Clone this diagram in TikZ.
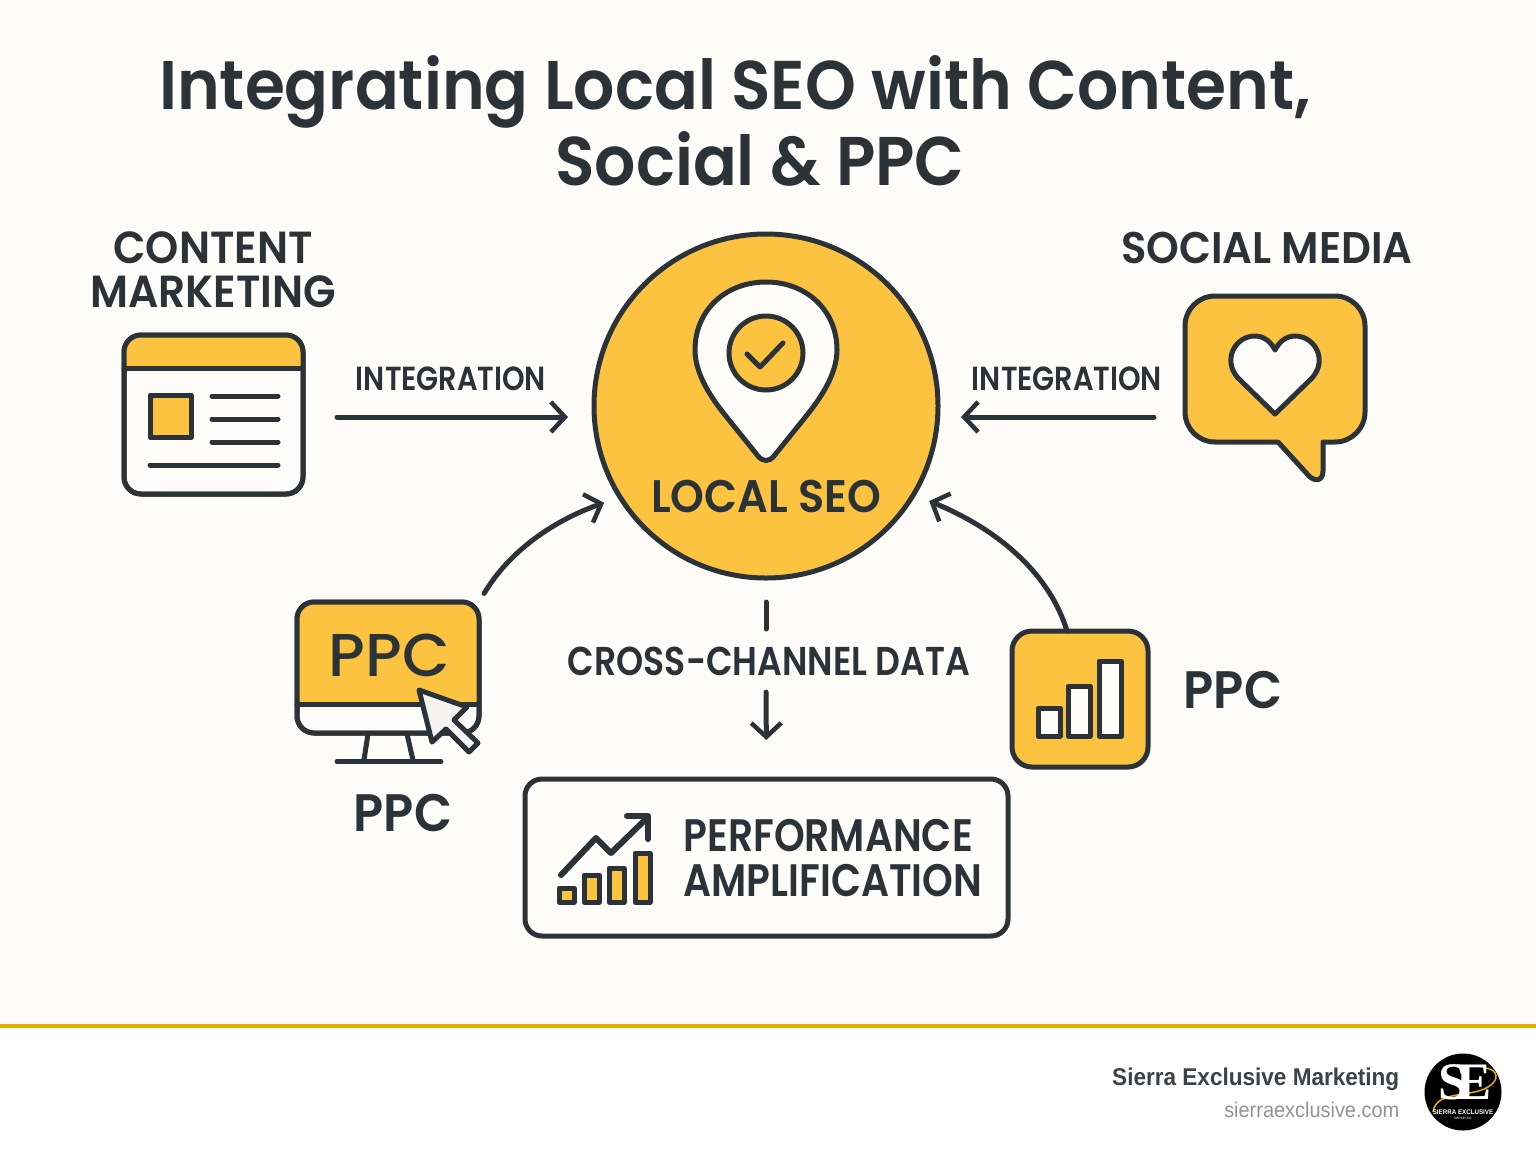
\documentclass[tikz,border=0pt]{standalone}
\usepackage{fontspec}
\usepackage{tikz}
\usepackage{xcolor}
\usetikzlibrary{arrows.meta, calc, positioning}
\setmainfont{Poppins}
\newfontfamily\headfont{Poppins SemiBold}[FakeStretch=0.94]
\newfontfamily\narrowfont{Poppins SemiBold}[FakeStretch=0.86]
\newfontfamily\screenfont{Poppins Medium}[FakeStretch=1.02]
\newfontfamily\footfont{Liberation Sans}[FakeStretch=0.93]
\newfontfamily\logofont{Liberation Serif}
\definecolor{paper}{HTML}{FEFCF8}
\definecolor{accent}{HTML}{FCC340}
\definecolor{ink}{HTML}{2B3338}
\definecolor{rule}{HTML}{E3AE06}
\definecolor{pointer}{HTML}{F6F4F0}
\tikzset{
    inkline/.style={draw=ink, line width=0.05cm, line cap=round, line join=round},
    flow/.style={inkline, -{Straight Barb[length=0.14cm, width=0.3cm, line width=0.045cm]}},
    iconbox/.style={inkline, rectangle, rounded corners=0.17cm, inner sep=0, outer sep=0},
    headtext/.style={text=ink, inner sep=0, font=\headfont\fontsize{19.6}{24}\selectfont},
    bigtext/.style={text=ink, inner sep=0, align=center, font=\headfont\fontsize{12.8}{12.5}\selectfont},
    ppctext/.style={text=ink, inner sep=0, font=\headfont\fontsize{15}{16}\selectfont},
    smalltext/.style={text=ink, inner sep=0, font=\narrowfont\fontsize{9.5}{12}\selectfont}
}
\begin{document}
\begin{tikzpicture}
    \useasboundingbox (0, 0) rectangle (15.36, -11.54);
    \fill[paper] (0, 0) rectangle (15.36, -10.26);
    \fill[white] (0, -10.26) rectangle (15.36, -11.54);
    \draw[rule, line width=0.04cm] (0, -10.26) -- (15.36, -10.26);

    \node[headtext] (titletop) at (7.35, -0.92) {Integrating Local SEO with Content,};
    \node[headtext] (titlebottom) at (7.6, -1.59) {Social \& PPC};

    % centre circle
    \node[inkline, circle, fill=accent, minimum size=3.44cm, inner sep=0, outer sep=0] (seo) at (7.66, -4.06) {};
    \draw[inkline, fill=paper] (6.95, -3.5) .. controls (6.95, -3.1) and (7.26, -2.82) .. (7.66, -2.82)
        .. controls (8.06, -2.82) and (8.37, -3.1) .. (8.37, -3.5)
        .. controls (8.37, -3.75) and (8.19, -4) .. (8.07, -4.15) -- (7.74, -4.56)
        .. controls (7.69, -4.62) and (7.63, -4.62) .. (7.58, -4.56) -- (7.25, -4.15)
        .. controls (7.13, -4) and (6.95, -3.75) .. (6.95, -3.5) -- cycle;
    \node[inkline, circle, fill=accent, minimum size=0.74cm, inner sep=0] (pincheck) at (7.66, -3.53) {};
    \draw[inkline] (7.47, -3.54) -- (7.6, -3.67) -- (7.83, -3.43);
    \node[bigtext, font=\headfont\fontsize{13}{13}\selectfont] (seolabel) at (7.66, -4.96) {LOCAL SEO};

    % content marketing
    \node[bigtext] (contentlabel) at (2.13, -2.7) {CONTENT\\MARKETING};
    \node[iconbox, fill=paper, minimum width=1.79cm, minimum height=1.59cm] (content) at (2.135, -4.145) {};
    \begin{scope}
        \clip[rounded corners=0.17cm] (content.north west) rectangle (content.south east);
        \fill[accent] (content.north west) rectangle (3.03, -3.68);
    \end{scope}
    \draw[inkline] (content.west |- 0, -3.68) -- (content.east |- 0, -3.68);
    \draw[iconbox] (content.north west) rectangle (content.south east);
    \draw[inkline, fill=accent] (1.5, -3.95) rectangle (1.91, -4.37);
    \draw[inkline] (2.12, -3.96) -- (2.78, -3.96);
    \draw[inkline] (2.12, -4.19) -- (2.78, -4.19);
    \draw[inkline] (2.12, -4.42) -- (2.78, -4.42);
    \draw[inkline] (1.5, -4.65) -- (2.78, -4.65);

    % social media
    \node[bigtext, font=\headfont\fontsize{12.6}{12.5}\selectfont] (sociallabel) at (12.67, -2.48) {SOCIAL MEDIA};
    \node[minimum width=1.8cm, minimum height=1.46cm, inner sep=0, outer sep=0] (social) at (12.75, -3.69) {};
    \draw[inkline, fill=accent] (12.15, -2.96) -- (13.35, -2.96) arc[start angle=90, end angle=0, radius=0.3]
        -- (13.65, -4.12) arc[start angle=0, end angle=-90, radius=0.3] -- (13.23, -4.42) -- (13.23, -4.71)
        .. controls (13.23, -4.81) and (13.15, -4.82) .. (13.09, -4.76) -- (12.78, -4.42) -- (12.15, -4.42)
        arc[start angle=-90, end angle=-180, radius=0.3] -- (11.85, -3.26) arc[start angle=180, end angle=90, radius=0.3] -- cycle;
    \draw[inkline, fill=paper] (12.75, -4.14) -- (12.38, -3.78)
        .. controls (12.22, -3.6) and (12.35, -3.36) .. (12.55, -3.36)
        .. controls (12.64, -3.36) and (12.71, -3.42) .. (12.75, -3.5)
        .. controls (12.79, -3.42) and (12.86, -3.36) .. (12.95, -3.36)
        .. controls (13.15, -3.36) and (13.28, -3.6) .. (13.12, -3.78) -- cycle;

    % integration arrows
    \coordinate (seoleft) at (seo.west |- 0, -4.17);
    \coordinate (seoright) at (seo.east |- 0, -4.17);
    \node[smalltext] (integrationleft) at (4.51, -3.79) {INTEGRATION};
    \node[smalltext] (integrationright) at (10.67, -3.79) {INTEGRATION};
    \draw[flow, shorten <=0.34cm, shorten >=0.26cm] (content.east |- seoleft) -- (seoleft);
    \draw[flow, shorten <=0.31cm, shorten >=0.23cm] (social.west |- seoright) -- (seoright);

    % ppc monitor
    \node[iconbox, fill=paper, minimum width=1.82cm, minimum height=1.31cm] (monitor) at (3.88, -6.675) {};
    \begin{scope}
        \clip[rounded corners=0.17cm] (monitor.north west) rectangle (monitor.south east);
        \fill[accent] (monitor.north west) rectangle (4.8, -7.04);
    \end{scope}
    \draw[inkline] (monitor.west |- 0, -7.04) -- (monitor.east |- 0, -7.04);
    \draw[iconbox] (monitor.north west) rectangle (monitor.south east);
    \draw[inkline] (3.68, -7.34) -- (3.64, -7.6);
    \draw[inkline] (4.07, -7.34) -- (4.13, -7.6);
    \draw[inkline] (3.37, -7.615) -- (4.41, -7.615);
    \node[text=ink, inner sep=0, font=\screenfont\fontsize{17.2}{20}\selectfont] (screenlabel) at (3.895, -6.55) {PPC};
    \draw[inkline, fill=pointer] (4.19, -6.9) -- (4.67, -7.07) -- (4.54, -7.2) -- (4.78, -7.43) -- (4.69, -7.52)
        -- (4.46, -7.29) -- (4.32, -7.42) -- cycle;
    \node[ppctext] (ppcleft) at (4.03, -8.13) {PPC};

    % ppc bars
    \node[iconbox, fill=accent, rounded corners=0.2cm, minimum size=1.36cm] (bars) at (10.8, -6.99) {};
    \draw[inkline, fill=paper] (10.38, -7.08) rectangle (10.6, -7.36);
    \draw[inkline, fill=paper] (10.68, -6.86) rectangle (10.9, -7.36);
    \draw[inkline, fill=paper] (10.99, -6.61) rectangle (11.21, -7.36);
    \node[ppctext] (ppcright) at (12.33, -6.9) {PPC};

    % curved arrows
    \draw[flow, shorten <=0.1cm, shorten >=0.17cm] (monitor.north east) .. controls (5.1, -5.5) and (5.55, -5.2) .. (seo.212);
    \draw[flow, shorten >=0.17cm] ([xshift=-0.13cm]bars.north) .. controls (10.5, -5.75) and (10, -5.3) .. (seo.-31);

    % performance box
    \node[text=ink, inner sep=0, font=\narrowfont\fontsize{11.45}{14}\selectfont] (crossdata) at (7.69, -6.61) {CROSS-CHANNEL DATA};
    \node[iconbox, fill=paper, minimum width=4.83cm, minimum height=1.57cm] (perf) at (7.665, -8.575) {};
    \node[text=ink, inner sep=0, align=left, anchor=west, font=\narrowfont\fontsize{12.95}{12.8}\selectfont] (perflabel) at (6.83, -8.585) {PERFORMANCE\\AMPLIFICATION};
    \draw[inkline, shorten <=0.24cm, shorten >=0.17cm] (seo.south) -- (crossdata.north -| seo.south);
    \draw[flow, shorten <=0.16cm, shorten >=0.39cm] (crossdata.south -| seo.south) -- (perf.north);
    \draw[inkline, line width=0.06cm] (5.61, -8.75) -- (5.96, -8.38) -- (6.11, -8.53) -- (6.48, -8.17);
    \draw[inkline, line width=0.06cm] (6.27, -8.16) -- (6.48, -8.16) -- (6.48, -8.39);
    \draw[inkline, fill=accent] (5.59, -8.88) rectangle (5.74, -9.02);
    \draw[inkline, fill=accent] (5.84, -8.75) rectangle (5.99, -9.02);
    \draw[inkline, fill=accent] (6.09, -8.68) rectangle (6.24, -9.02);
    \draw[inkline, fill=accent] (6.35, -8.53) rectangle (6.5, -9.02);

    % footer
    \node[anchor=east, inner sep=0, text=ink!80!gray, font=\footfont\bfseries\fontsize{6.9}{9}\selectfont] (brand) at (14, -10.79) {Sierra Exclusive Marketing};
    \node[anchor=east, inner sep=0, text=gray!85, font=\footfont\fontsize{6.1}{8}\selectfont] (website) at (14, -11.1) {sierraexclusive.com};
    \node[circle, fill=black, minimum size=0.77cm, inner sep=0] (logo) at (14.63, -10.92) {};
    \draw[rule, line width=0.015cm] (14.33, -11.12) .. controls (14.36, -10.9) and (14.7, -10.98) .. (14.88, -10.87) .. controls (15, -10.8) and (14.98, -10.7) .. (14.86, -10.68);
    \node[inner sep=0, text=white, font=\logofont\bfseries\fontsize{15}{15}\selectfont] (logotext) at (14.65, -10.82) {S\kern-0.2em E};
    \node[inner sep=0, text=white, font=\footfont\bfseries\fontsize{1.9}{2}\selectfont] (logoname) at (14.63, -11.12) {SIERRA EXCLUSIVE};
    \node[inner sep=0, text=white, font=\footfont\fontsize{0.9}{1}\selectfont] (logosub) at (14.63, -11.18) {MARKETING};
\end{tikzpicture}
\end{document}
